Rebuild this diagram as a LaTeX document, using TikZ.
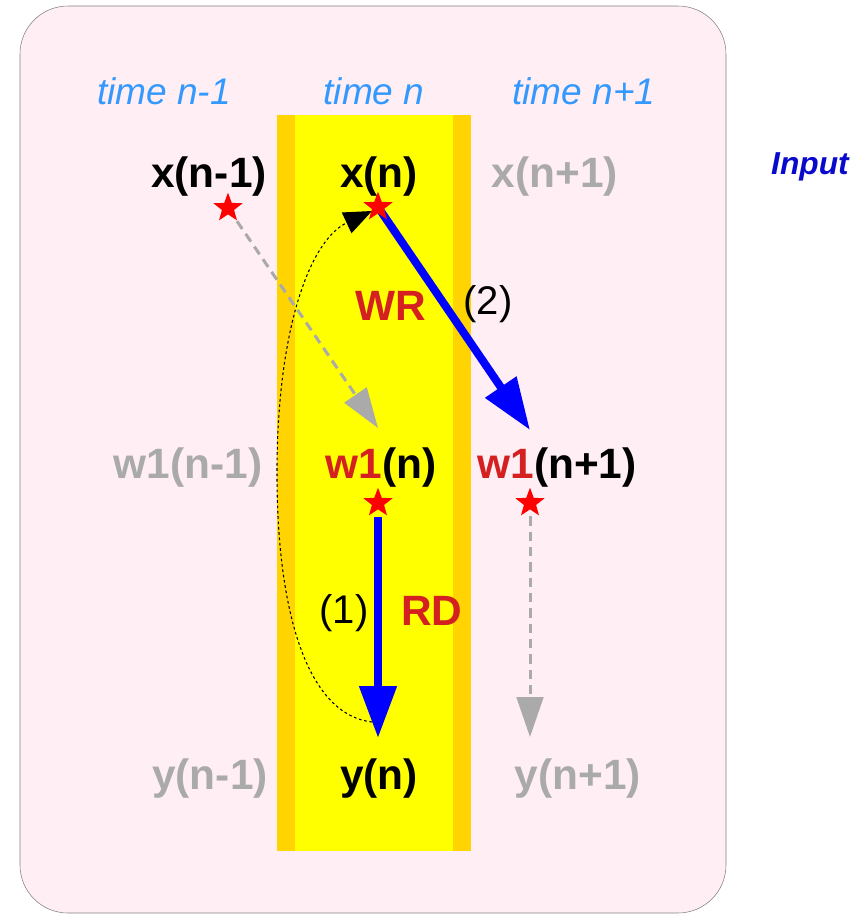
\documentclass[tikz,border=0pt]{standalone}
\usepackage{fontspec}
\setmainfont{Liberation Sans}
\usetikzlibrary{arrows.meta, shapes.geometric}
\definecolor{panelpink}{HTML}{FFEEF3}
\definecolor{panelgray}{HTML}{808080}
\definecolor{bandyellow}{HTML}{FFFF00}
\definecolor{bandorange}{HTML}{FFD400}
\definecolor{timeblue}{HTML}{3399FF}
\definecolor{inputblue}{HTML}{0A0ACC}
\definecolor{regred}{HTML}{D42020}
\definecolor{fadegray}{HTML}{AAAAAA}
\definecolor{flowblue}{HTML}{0000FF}

\begin{document}
\begin{tikzpicture}[
    x=0.75pt, y=-0.75pt,
    lbl/.style={font=\fontsize{31.8}{36}\selectfont\bfseries},
    timelbl/.style={font=\fontsize{27.8}{32}\selectfont\itshape, text=timeblue},
    numlbl/.style={font=\fontsize{30}{34}\selectfont},
    tap/.style={star, star points=5, star point ratio=2.4, fill=red, inner sep=0pt, minimum size=23pt},
    flow/.style={line width=6pt, flowblue, -{Triangle[length=39pt, width=27pt]}},
    ghost/.style={line width=2.25pt, fadegray, dash pattern=on 7pt off 4.5pt, -{Triangle[length=30pt, width=20pt]}},
    loopback/.style={line width=0.8pt, dash pattern=on 2pt off 2pt, -{Triangle[length=21pt, width=17pt]}}
]
\useasboundingbox (0,0) rectangle (865,915);

% 1. Panel and the time-n band
\draw[panelgray, fill=panelpink, rounded corners=36pt] (20,6) rectangle (726,913);
\fill[bandorange] (277,115) rectangle (471,851);
\fill[bandyellow] (295,115) rectangle (453,851);

% 2. Sample points (stars) and arrow tips
\coordinate (Xprev) at (228,208);
\coordinate (Xcur) at (378,207);
\coordinate (Wcur) at (378,503);
\coordinate (Wnext) at (530,503);

\coordinate (WcurTip) at (378,428);
\coordinate (WnextTip) at (530,430);
\coordinate (YcurTip) at (378,738);
\coordinate (YnextTip) at (530,737);
\coordinate (LoopStart) at (372,722);
\coordinate (LoopEnd) at (372,211);

% 3. Data flow arrows
\draw[ghost, shorten <=12pt] (Xprev) -- (WcurTip);
\draw[ghost, shorten <=10pt] (Wnext) -- (YnextTip);
\draw[flow] (Xcur) -- (WnextTip);
\draw[flow, shorten <=10.5pt] (Wcur) -- (YcurTip);
\draw[loopback] (LoopStart) .. controls (310,715) and (278,620) .. (277,480)
                            .. controls (276,330) and (310,240) .. (LoopEnd);

\foreach \p in {Xprev, Xcur, Wcur, Wnext} {
    \node[tap] (star\p) at (\p) {};
}

% 4. Time headers
\node[timelbl] (tprev) at (164,91) {time n-1};
\node[timelbl] (tcur) at (374,91) {time n};
\node[timelbl] (tnext) at (584,91) {time n+1};
\node[font=\fontsize{23.8}{28}\selectfont\bfseries\itshape, text=inputblue] (input) at (810,167) {Input};

% 5. Signal labels
\node[lbl] (xprev) at (209,177) {x(n-1)};
\node[lbl] (xcur) at (379,177) {x(n)};
\node[lbl, text=fadegray] (xnext) at (555,177) {x(n+1)};

\node[lbl, text=fadegray] (wprev) at (188,468) {w1(n-1)};
\node[lbl] (wcur) at (381,468) {\textcolor{regred}{w1}(n)};
\node[lbl] (wnext) at (557,468) {\textcolor{regred}{w1}(n+1)};

\node[lbl, text=fadegray] (yprev) at (210,779) {y(n-1)};
\node[lbl] (ycur) at (379,779) {y(n)};
\node[lbl, text=fadegray] (ynext) at (578,779) {y(n+1)};

% 6. Operation labels
\node[lbl, text=regred] (wr) at (391,306) {WR};
\node[numlbl] (two) at (488,304) {(2)};
\node[numlbl] (one) at (344,613) {(1)};
\node[lbl, text=regred] (rd) at (432,611) {RD};

\end{tikzpicture}
\end{document}
